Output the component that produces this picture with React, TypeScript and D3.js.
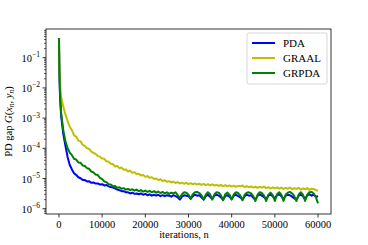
import React from 'react';
import * as d3 from 'd3';

// iteration grid (x values)
const iterations = [
  0, 100, 250, 500, 1000, 1500, 2000, 2500, 3000, 3500,
  4000, 4500, 5000, 5500, 6000, 6500, 7000, 7500, 8000, 8500,
  9000, 9500, 10000, 10500, 11000, 11500, 12000, 12500, 13000, 13500,
  14000, 14500, 15000, 15500, 16000, 16500, 17000, 17500, 18000, 18500,
  19000, 19500, 20000, 20500, 21000, 21500, 22000, 22500, 23000, 23500,
  24000, 24500, 25000, 25500, 26000, 26500, 27000, 27500, 28000, 28500,
  29000, 29500, 30000, 30500, 31000, 31500, 32000, 32500, 33000, 33500,
  34000, 34500, 35000, 35500, 36000, 36500, 37000, 37500, 38000, 38500,
  39000, 39500, 40000, 40500, 41000, 41500, 42000, 42500, 43000, 43500,
  44000, 44500, 45000, 45500, 46000, 46500, 47000, 47500, 48000, 48500,
  49000, 49500, 50000, 50500, 51000, 51500, 52000, 52500, 53000, 53500,
  54000, 54500, 55000, 55500, 56000, 56500, 57000, 57500, 58000, 58500,
  59000, 59500, 60000,
];

const pda = [
  4.5e-1, 3.0e-2, 5.0e-3, 1.2e-3, 3.0e-4, 1.2e-4, 5.2e-5, 2.8e-5, 2.0e-5, 1.5e-5,
  1.3e-5, 1.1e-5, 1.02e-5, 9.0e-6, 8.9e-6, 8.0e-6, 8.1e-6, 7.2e-6, 7.4e-6, 6.8e-6,
  6.9e-6, 6.3e-6, 6.5e-6, 5.9e-6, 6.1e-6, 5.5e-6, 5.2e-6, 5.0e-6, 4.7e-6, 4.3e-6,
  4.1e-6, 3.8e-6, 3.8e-6, 3.5e-6, 3.5e-6, 3.2e-6, 3.4e-6, 3.1e-6, 3.2e-6, 3.0e-6,
  3.2e-6, 2.9e-6, 3.1e-6, 2.8e-6, 3.0e-6, 2.7e-6, 2.9e-6, 2.7e-6, 2.9e-6, 2.6e-6,
  2.8e-6, 2.6e-6, 2.8e-6, 2.7e-6, 2.5e-6, 2.8e-6, 2.6e-6, 2.4e-6, 2.0e-6, 2.5e-6,
  2.8e-6, 2.7e-6, 2.6e-6, 2.1e-6, 2.6e-6, 2.9e-6, 2.7e-6, 2.8e-6, 2.4e-6, 2.0e-6,
  2.6e-6, 2.9e-6, 2.5e-6, 2.1e-6, 2.7e-6, 2.9e-6, 2.7e-6, 2.4e-6, 2.0e-6, 2.6e-6,
  2.8e-6, 2.5e-6, 2.1e-6, 2.7e-6, 2.9e-6, 2.6e-6, 2.4e-6, 2.0e-6, 2.6e-6, 2.9e-6,
  2.7e-6, 2.8e-6, 2.3e-6, 2.0e-6, 2.7e-6, 3.0e-6, 2.7e-6, 2.4e-6, 2.1e-6, 2.7e-6,
  2.9e-6, 2.6e-6, 2.2e-6, 2.8e-6, 3.0e-6, 2.6e-6, 2.1e-6, 2.7e-6, 2.9e-6, 2.8e-6,
  2.5e-6, 2.2e-6, 2.0e-6, 2.7e-6, 2.9e-6, 2.6e-6, 2.1e-6, 2.8e-6, 3.0e-6, 2.7e-6,
  2.9e-6, 2.5e-6, 2.6e-6,
];

const graal = [
  4.5e-1, 5.0e-2, 1.3e-2, 5.0e-3, 2.4e-3, 1.3e-3, 8.0e-4, 5.2e-4, 4.0e-4, 2.7e-4,
  2.4e-4, 1.8e-4, 1.7e-4, 1.3e-4, 1.2e-4, 1.0e-4, 9.5e-5, 7.8e-5, 7.0e-5, 6.5e-5,
  5.5e-5, 5.3e-5, 4.6e-5, 4.5e-5, 3.7e-5, 3.6e-5, 3.1e-5, 3.0e-5, 2.5e-5, 2.6e-5,
  2.2e-5, 2.3e-5, 1.95e-5, 2.0e-5, 1.7e-5, 1.8e-5, 1.55e-5, 1.6e-5, 1.4e-5, 1.45e-5,
  1.25e-5, 1.3e-5, 1.15e-5, 1.2e-5, 1.05e-5, 1.1e-5, 9.6e-6, 1.0e-5, 8.9e-6, 9.4e-6,
  8.3e-6, 8.8e-6, 7.8e-6, 8.2e-6, 7.4e-6, 7.9e-6, 7.1e-6, 7.6e-6, 6.9e-6, 7.3e-6,
  6.7e-6, 7.2e-6, 6.5e-6, 7.0e-6, 6.4e-6, 6.9e-6, 6.3e-6, 6.7e-6, 6.2e-6, 6.6e-6,
  6.0e-6, 6.5e-6, 5.9e-6, 6.4e-6, 5.8e-6, 6.2e-6, 5.7e-6, 6.1e-6, 5.6e-6, 6.0e-6,
  5.5e-6, 5.9e-6, 5.4e-6, 5.8e-6, 5.3e-6, 5.7e-6, 5.5e-6, 5.9e-6, 5.2e-6, 5.6e-6,
  5.1e-6, 5.5e-6, 5.0e-6, 5.4e-6, 4.9e-6, 5.3e-6, 5.0e-6, 5.4e-6, 4.8e-6, 5.2e-6,
  4.7e-6, 5.1e-6, 4.7e-6, 5.1e-6, 4.6e-6, 5.0e-6, 4.5e-6, 4.9e-6, 4.6e-6, 5.0e-6,
  4.4e-6, 4.8e-6, 4.5e-6, 4.9e-6, 4.3e-6, 4.7e-6, 4.4e-6, 4.8e-6, 4.2e-6, 4.6e-6,
  4.5e-6, 4.1e-6, 4.0e-6,
];

const grpda = [
  4.5e-1, 4.0e-2, 6.3e-3, 1.5e-3, 4.0e-4, 1.7e-4, 1.0e-4, 7.2e-5, 5.9e-5, 4.5e-5,
  4.2e-5, 3.4e-5, 3.3e-5, 2.7e-5, 2.6e-5, 2.2e-5, 2.1e-5, 1.7e-5, 1.6e-5, 1.35e-5,
  1.3e-5, 1.05e-5, 9.5e-6, 8.0e-6, 7.6e-6, 6.5e-6, 6.3e-6, 5.5e-6, 5.6e-6, 4.9e-6,
  5.1e-6, 4.6e-6, 4.8e-6, 4.3e-6, 4.5e-6, 4.1e-6, 4.4e-6, 4.0e-6, 4.3e-6, 3.8e-6,
  4.1e-6, 3.7e-6, 4.0e-6, 3.6e-6, 3.9e-6, 3.5e-6, 3.8e-6, 3.4e-6, 3.7e-6, 3.3e-6,
  3.6e-6, 3.2e-6, 3.5e-6, 3.1e-6, 3.4e-6, 3.2e-6, 3.5e-6, 2.8e-6, 2.3e-6, 3.0e-6,
  3.5e-6, 3.4e-6, 2.9e-6, 2.2e-6, 3.0e-6, 3.5e-6, 3.6e-6, 3.3e-6, 2.8e-6, 2.0e-6,
  2.9e-6, 3.5e-6, 3.0e-6, 2.0e-6, 3.0e-6, 3.5e-6, 3.4e-6, 2.8e-6, 1.9e-6, 3.0e-6,
  3.4e-6, 2.9e-6, 2.0e-6, 3.0e-6, 3.5e-6, 3.3e-6, 2.7e-6, 1.9e-6, 2.9e-6, 3.4e-6,
  3.5e-6, 3.2e-6, 2.6e-6, 1.8e-6, 2.9e-6, 3.5e-6, 3.3e-6, 2.7e-6, 1.8e-6, 2.9e-6,
  3.4e-6, 2.8e-6, 1.8e-6, 3.0e-6, 3.5e-6, 2.9e-6, 1.8e-6, 2.9e-6, 3.4e-6, 3.6e-6,
  3.2e-6, 2.6e-6, 1.8e-6, 2.9e-6, 3.5e-6, 2.9e-6, 1.8e-6, 2.9e-6, 3.5e-6, 3.6e-6,
  3.2e-6, 2.4e-6, 1.5e-6,
];

const seriesNames = ['PDA', 'GRAAL', 'GRPDA'];
const seriesColors = ['#0000ff', '#bfbf00', '#008000'];
const seriesData = [pda, graal, grpda];

const xTicks = [0, 10000, 20000, 30000, 40000, 50000, 60000];
const yTickExps = [-6, -5, -4, -3, -2, -1];

const FONT = "'Liberation Serif', 'Times New Roman', 'DejaVu Serif', serif";

export default function App() {
  const left = 46, right = 331, top = 29, bottom = 214;

  const x = d3.scaleLinear().domain([-3000, 63000]).range([left, right]);
  const y = d3.scaleLog()
    .domain([Math.pow(10, -6.175), Math.pow(10, -0.05)])
    .range([bottom, top]);

  const line = d3.line<number>()
    .x((_, i) => x(iterations[i]))
    .y(d => y(d));

  // minor ticks for the log axis
  const [yMin, yMax] = y.domain();
  const minorTicks: number[] = [];
  for (let e = -7; e <= 0; e++) {
    for (let m = 2; m <= 9; m++) {
      const v = m * Math.pow(10, e);
      if (v >= yMin && v <= yMax) minorTicks.push(v);
    }
  }

  return (
    <svg width={368} height={245}
      style={{ position: 'absolute', left: 0, top: 0, background: '#fff', fontFamily: FONT }}>
      <defs>
        <clipPath id="plotClip">
          <rect x={left} y={top} width={right - left} height={bottom - top} />
        </clipPath>
      </defs>

      {/* series */}
      <g clipPath="url(#plotClip)">
        {seriesData.map((d, i) => (
          <path key={seriesNames[i]} d={line(d) || ''} fill="none"
            stroke={seriesColors[i]} strokeWidth={2} strokeLinejoin="round" />
        ))}
      </g>

      {/* frame */}
      <rect x={left} y={top} width={right - left} height={bottom - top}
        fill="none" stroke="#000" strokeWidth={0.8} />

      {/* x axis */}
      {xTicks.map(t => (
        <g key={t} transform={`translate(${x(t)},${bottom})`}>
          <line y2={3.5} stroke="#000" strokeWidth={0.8} />
          <text y={13.5} textAnchor="middle" fontSize={10.5}>{t}</text>
        </g>
      ))}
      <text x={184} y={238} textAnchor="middle" fontSize={10.5}>iterations, n</text>

      {/* y axis */}
      {minorTicks.map(v => (
        <line key={v} x1={left} x2={left - 2} y1={y(v)} y2={y(v)} stroke="#000" strokeWidth={0.6} />
      ))}
      {yTickExps.map(e => {
        const yy = y(Math.pow(10, e));
        return (
          <g key={e}>
            <line x1={left} x2={left - 3.5} y1={yy} y2={yy} stroke="#000" strokeWidth={0.8} />
            <text x={40} y={yy + 4} textAnchor="end" fontSize={10.5}>
              10<tspan fontSize={7.5} dy={-4.5}>{'\u2212' + Math.abs(e)}</tspan>
            </text>
          </g>
        );
      })}
      <text transform={`translate(12,${(top + bottom) / 2}) rotate(-90)`} textAnchor="middle" fontSize={10.5}>
        PD gap <tspan fontStyle="italic">G</tspan>(<tspan fontStyle="italic">x</tspan>
        <tspan fontStyle="italic" fontSize={7.5} dy={2}>n</tspan>
        <tspan dy={-2}>, </tspan><tspan fontStyle="italic">y</tspan>
        <tspan fontStyle="italic" fontSize={7.5} dy={2}>n</tspan>
        <tspan dy={-2}>)</tspan>
      </text>

      {/* legend */}
      <rect x={247} y={33} width={80} height={51} rx={2} fill="#fff" fillOpacity={0.8}
        stroke="#cccccc" strokeWidth={0.8} />
      {seriesNames.map((name, i) => (
        <g key={name} transform={`translate(252,${43 + i * 15})`}>
          <line x1={0} x2={23} stroke={seriesColors[i]} strokeWidth={2} />
          <text x={31} y={4} fontSize={11}>{name}</text>
        </g>
      ))}
    </svg>
  );
}
